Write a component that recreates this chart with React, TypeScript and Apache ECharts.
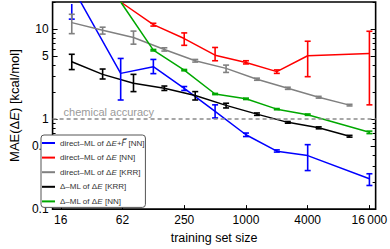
import React, { useEffect, useRef } from 'react';
import * as echarts from 'echarts';

// ---- axis ticks ----
const X_TICKS = [15.625, 62.5, 250, 1000, 4000, 16000];
const X_TICK_LABELS = ['16', '62', '250', '1000', '4000', '16\u2009000'];
const Y_LABEL_TICKS = [0.1, 0.5, 1, 5, 10];
const Y_MINOR_TICKS = [0.2, 0.3, 0.4, 0.6, 0.7, 0.8, 0.9, 2, 3, 4, 6, 7, 8, 9, 20];

// ---- training set sizes ----
const KRR_SIZES = [20, 40, 80, 160, 320, 640, 1280, 2560, 5120, 10240];
const NN_SIZES = [60, 125, 250, 500, 1000, 2000, 4000, 16000];
const FORCE_SIZES = [20, 60, 125, 250, 500, 1000, 2000, 4000, 16000];

// ---- direct-ML of dE+F [NN] (blue) ----
const BLUE_MAE = [30, 3.22, 3.82, 2.2, 1.22, 0.67, 0.44, 0.393, 0.217];
const BLUE_LO = [12.9, 1.63, 3.2, 2.08, 1.03, 0.64, 0.43, 0.268, 0.183];
const BLUE_HI = [45, 4.72, 4.6, 2.3, 1.44, 0.7, 0.455, 0.52, 0.247];

// ---- direct-ML of dE [NN] (red) ----
const RED_MAE = [20, 11.2, 7.85, 5.13, 4.26, 3.37, 5.06, 5.36];
const RED_LO = [20, 10.8, 6.6, 4.45, 4.1, 3.22, 2.96, 1.44];
const RED_HI = [20, 11.6, 9.07, 6.25, 4.45, 3.52, 7.33, 9.46];

// ---- direct-ML of dE [KRR] (gray) ----
const GRAY_MAE = [11.8, 9.7, 8.05, 5.94, 4.45, 3.66, 2.77, 2.2, 1.75, 1.43];
const GRAY_LO = [8.9, 8.8, 6.8, 5.7, 4.3, 3.3, 2.7, 2.14, 1.71, 1.4];
const GRAY_HI = [14.6, 10.5, 9.5, 6.2, 4.6, 3.98, 2.85, 2.26, 1.79, 1.46];

// ---- Delta-ML of dE [KRR] (black) ----
const BLACK_MAE = [4.34, 3.14, 2.5, 2.2, 1.83, 1.42, 1.135, 0.92, 0.8, 0.644];
const BLACK_LO = [3.55, 2.79, 2.02, 2.08, 1.63, 1.33, 1.1, 0.9, 0.78, 0.63];
const BLACK_HI = [5.25, 3.6, 3.14, 2.33, 2.02, 1.5, 1.17, 0.94, 0.82, 0.66];

// ---- Delta-ML of dE [NN] (green) ----
const GREEN_MAE = [20, 5.83, 3.5, 1.9, 1.68, 1.29, 1.12, 0.713];
const GREEN_LO = [20, 5.72, 3.44, 1.87, 1.65, 1.27, 1.1, 0.69];
const GREEN_HI = [20, 5.94, 3.56, 1.93, 1.71, 1.31, 1.14, 0.735];

const NAMES = [
  'direct–ML of ΔE+F [NN]',
  'direct–ML of ΔE [NN]',
  'direct–ML of ΔE [KRR]',
  'Δ–ML of ΔE [KRR]',
  'Δ–ML of ΔE [NN]',
];
const LEGEND_RICH = [
  'direct–ML of Δ{i|E}+{v|F\u20D7} [NN]',
  'direct–ML of Δ{i|E} [NN]',
  'direct–ML of Δ{i|E} [KRR]',
  'Δ–ML of Δ{i|E} [KRR]',
  'Δ–ML of Δ{i|E} [NN]',
];
const COLORS = ['#0000ff', '#ff0000', '#808080', '#000000', '#00a800'];

const FONT = 'Liberation Sans, Arial, sans-serif';
const CAP = 3;

function lineSeries(name: string, color: string, xs: number[], ys: number[]) {
  return {
    type: 'line',
    name,
    color,
    data: xs.map((x, i) => [x, ys[i]]),
    symbol: 'none',
    showSymbol: false,
    clip: true,
    lineStyle: { color, width: 1.5 },
    itemStyle: { color },
    z: 2,
  };
}

function errorSeries(color: string, xs: number[], lo: number[], hi: number[]) {
  return {
    type: 'custom',
    silent: true,
    z: 3,
    data: xs.map((x, i) => [x, lo[i], hi[i]]),
    encode: { x: 0, y: [1, 2] },
    renderItem: (params: any, api: any) => {
      const cs = params.coordSys;
      const top = cs.y + 2;
      const bottom = cs.y + cs.height;
      const x = api.value(0);
      const pHi = api.coord([x, api.value(2)]);
      const pLo = api.coord([x, api.value(1)]);
      const yTop = Math.max(pHi[1], top);
      const yBot = Math.min(pLo[1], bottom);
      const style = { stroke: color, lineWidth: 1.6, fill: 'none' };
      const children: any[] = [];
      if (yBot > yTop) {
        children.push({ type: 'line', shape: { x1: pHi[0], y1: yTop, x2: pHi[0], y2: yBot }, style });
      }
      if (pHi[1] >= top && pHi[1] <= bottom) {
        children.push({ type: 'line', shape: { x1: pHi[0] - CAP, y1: pHi[1], x2: pHi[0] + CAP, y2: pHi[1] }, style });
      }
      if (pLo[1] >= top && pLo[1] <= bottom) {
        children.push({ type: 'line', shape: { x1: pLo[0] - CAP, y1: pLo[1], x2: pLo[0] + CAP, y2: pLo[1] }, style });
      }
      return { type: 'group', children };
    },
  };
}

function yAxisBase(position: 'left' | 'right', ticks: number[], len: number, labels: boolean) {
  return {
    type: 'log',
    logBase: 10,
    min: 0.1,
    max: 20,
    position,
    axisLine: { show: false },
    splitLine: { show: false },
    minorTick: { show: false },
    axisTick: {
      show: true,
      inside: true,
      length: len,
      customValues: ticks,
      lineStyle: { color: '#000', width: 1 },
    },
    axisLabel: labels
      ? {
          show: true,
          customValues: Y_LABEL_TICKS,
          fontFamily: FONT,
          fontSize: 12,
          color: '#000',
          margin: 4,
          formatter: (v: number) => String(v),
        }
      : { show: false },
  };
}

export default function App() {
  const ref = useRef<HTMLDivElement>(null);
  useEffect(() => {
    if (!ref.current) return;
    const chart = echarts.init(ref.current, undefined, { renderer: 'svg' });
    const allSets = [
      { xs: FORCE_SIZES, ys: BLUE_MAE, lo: BLUE_LO, hi: BLUE_HI },
      { xs: NN_SIZES, ys: RED_MAE, lo: RED_LO, hi: RED_HI },
      { xs: KRR_SIZES, ys: GRAY_MAE, lo: GRAY_LO, hi: GRAY_HI },
      { xs: KRR_SIZES, ys: BLACK_MAE, lo: BLACK_LO, hi: BLACK_HI },
      { xs: NN_SIZES, ys: GREEN_MAE, lo: GREEN_LO, hi: GREEN_HI },
    ];
    const series: any[] = [];
    allSets.forEach((s, i) => {
      series.push(lineSeries(NAMES[i], COLORS[i], s.xs, s.ys));
    });
    allSets.forEach((s, i) => {
      series.push(errorSeries(COLORS[i], s.xs, s.lo, s.hi));
    });
    // chemical accuracy reference line
    series[2].markLine = {
      silent: true,
      symbol: 'none',
      animation: false,
      lineStyle: { color: '#8a8a8a', type: [4, 3], width: 1.5 },
      label: {
        show: true,
        position: 'insideStartTop',
        formatter: 'chemical accuracy',
        color: '#9a9a9a',
        fontFamily: FONT,
        fontSize: 11,
        distance: [11, 2],
      },
      data: [{ yAxis: 1 }],
    };

    chart.setOption({
      animation: false,
      backgroundColor: '#fff',
      grid: {
        left: 37,
        right: 12,
        top: 2,
        bottom: 38,
        show: true,
        borderColor: '#000',
        borderWidth: 1.6,
        backgroundColor: 'transparent',
        containLabel: false,
      },
      legend: {
        orient: 'vertical',
        left: 41,
        top: 135,
        data: NAMES,
        icon: 'rect',
        itemWidth: 13,
        itemHeight: 2,
        itemGap: 4.6,
        itemTextGap: 5,
        padding: [3, 1, 1, 1],
        borderColor: '#555',
        borderWidth: 1,
        borderRadius: 3,
        backgroundColor: '#fff',
        selectedMode: false,
        formatter: (name: string) => LEGEND_RICH[NAMES.indexOf(name)],
        textStyle: {
          fontFamily: FONT,
          fontSize: 8,
          lineHeight: 10,
          color: '#333',
          rich: {
            i: { fontFamily: FONT, fontSize: 8, lineHeight: 10, color: '#333', fontStyle: 'italic' },
            v: { fontFamily: 'DejaVu Sans', fontSize: 8, lineHeight: 10, color: '#333', fontStyle: 'italic' },
          },
        },
      },
      xAxis: {
        type: 'log',
        logBase: 10,
        min: 13,
        max: 18400,
        name: 'training set size',
        nameLocation: 'middle',
        nameGap: 20,
        nameTextStyle: { fontFamily: FONT, fontSize: 12.5, color: '#000', verticalAlign: 'top' },
        axisLine: { show: false },
        splitLine: { show: false },
        minorTick: { show: false },
        axisTick: {
          show: true,
          inside: true,
          length: 4,
          customValues: X_TICKS,
          lineStyle: { color: '#000', width: 1 },
        },
        axisLabel: {
          show: true,
          customValues: X_TICKS,
          fontFamily: FONT,
          fontSize: 12,
          color: '#000',
          margin: 5,
          formatter: (v: number) => {
            let best = 0;
            X_TICKS.forEach((t, i) => {
              if (Math.abs(Math.log(t / v)) < Math.abs(Math.log(X_TICKS[best] / v))) best = i;
            });
            return X_TICK_LABELS[best];
          },
        },
      },
      yAxis: [
        {
          ...yAxisBase('left', Y_LABEL_TICKS, 5, true),
          name: 'MAE(Δ{i|E}) [kcal/mol]',
          nameLocation: 'middle',
          nameGap: 20,
          nameTextStyle: {
            fontFamily: FONT,
            fontSize: 13,
            color: '#000',
            rich: { i: { fontFamily: FONT, fontSize: 13, color: '#000', fontStyle: 'italic' } },
          },
        },
        yAxisBase('left', Y_MINOR_TICKS, 3, false),
        yAxisBase('right', Y_LABEL_TICKS, 5, false),
        yAxisBase('right', Y_MINOR_TICKS, 3, false),
      ],
      series,
    });
    return () => chart.dispose();
  }, []);
  return (
    <div
      ref={ref}
      style={{ position: 'fixed', left: 0, top: 0, width: 390, height: 249, background: '#fff' }}
    />
  );
}
